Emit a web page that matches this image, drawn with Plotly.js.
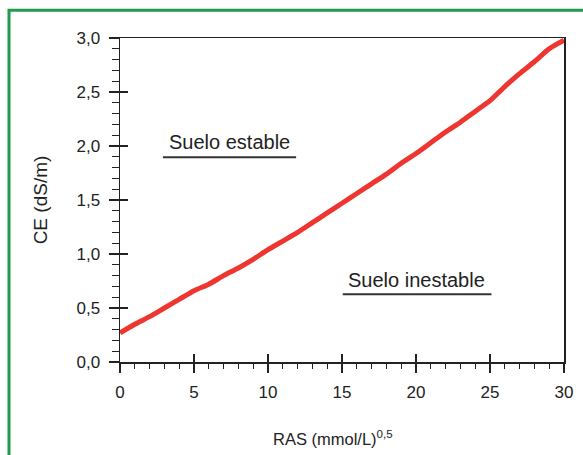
<!DOCTYPE html>
<html>
<head>
<meta charset="utf-8">
<script src="https://cdn.plot.ly/plotly-3.0.1.min.js"></script>
<style>
  html, body { margin: 0; padding: 0; background: #ffffff; }
  #chart { width: 583px; height: 455px; }
</style>
</head>
<body>
<div id="chart"></div>
<script>
// Data
const ras = [0, 1, 2, 3, 4, 5, 6, 7, 8, 9, 10, 11, 12, 13, 14, 15, 16, 17, 18, 19, 20, 21, 22, 23, 24, 25, 26, 27, 28, 29, 30];
const ce  = [0.27, 0.35, 0.42, 0.50, 0.58, 0.66, 0.72, 0.80, 0.87, 0.95, 1.04, 1.12, 1.20, 1.29, 1.38, 1.47, 1.56, 1.65, 1.74, 1.84, 1.93, 2.03, 2.13, 2.22, 2.32, 2.42, 2.55, 2.67, 2.78, 2.90, 2.98];

const regionLabels = ["Suelo estable", "Suelo inestable"];
const labelX = [7.4, 20.0];
const labelY = [2.04, 0.76];
const underlineX0 = [2.9, 15.05];
const underlineX1 = [11.9, 25.1];
const underlineY = [1.895, 0.627];

const xTitle = "RAS (mmol/L)<sup>0,5</sup>";
const yTitle = "CE (dS/m)";

const textColor = "#222222";
const fontFam = "Liberation Sans, Arial, sans-serif";

const trace = {
  x: ras, y: ce, type: "scatter", mode: "lines",
  line: { color: "#ee3530", width: 5, shape: "spline", smoothing: 0.6 },
  hoverinfo: "skip", showlegend: false
};
// invisible trace to anchor the overlay axes (inner half of the major ticks)
const ghost = {
  x: [0], y: [0], xaxis: "x2", yaxis: "y2", type: "scatter", mode: "markers",
  marker: { opacity: 0 }, hoverinfo: "skip", showlegend: false
};

const shapes = [
  { type: "rect", xref: "paper", yref: "paper", x0: -0.25, x1: 1.2, y0: -0.5, y1: 1.086,
    line: { color: "#1f9a4f", width: 3 }, fillcolor: "rgba(0,0,0,0)", layer: "below" }
];
const annotations = [];
for (let i = 0; i < regionLabels.length; i++) {
  shapes.push({ type: "line", xref: "x", yref: "y", x0: underlineX0[i], x1: underlineX1[i],
    y0: underlineY[i], y1: underlineY[i], line: { color: "#333333", width: 2 } });
  annotations.push({ x: labelX[i], y: labelY[i], xref: "x", yref: "y", text: regionLabels[i],
    showarrow: false, font: { family: fontFam, size: 20, color: textColor } });
}
// x-axis title placed as in the reference (slightly left of the plot centre)
annotations.push({ x: 0.479, y: -0.235, xref: "paper", yref: "paper", text: xTitle,
  showarrow: false, yanchor: "middle", font: { family: fontFam, size: 16.5, color: textColor } });

const layout = {
  width: 583, height: 455,
  margin: { l: 120, r: 19, t: 38, b: 93 },
  paper_bgcolor: "#ffffff", plot_bgcolor: "#ffffff",
  separators: ",.",
  font: { family: fontFam, color: textColor, size: 16 },
  xaxis: {
    range: [0, 30], dtick: 5, tick0: 0, showgrid: false, zeroline: false,
    showline: true, linecolor: "#222222", linewidth: 1.5, mirror: true,
    ticks: "outside", ticklen: 9, tickwidth: 1.5, tickcolor: "#222222",
    minor: { ticks: "outside", ticklen: 5, dtick: 1, tickwidth: 1.2, tickcolor: "#222222", showgrid: false },
    ticklabelstandoff: 5,
    tickfont: { family: fontFam, size: 17, color: textColor }
  },
  yaxis: {
    range: [0, 3], dtick: 0.5, tick0: 0, tickformat: ".1f", showgrid: false, zeroline: false,
    showline: true, linecolor: "#222222", linewidth: 1.5, mirror: true,
    ticks: "outside", ticklen: 10, tickwidth: 1.5, tickcolor: "#222222",
    minor: { ticks: "outside", ticklen: 7, dtick: 0.1, tickwidth: 1.2, tickcolor: "#222222", showgrid: false },
    ticklabelstandoff: 5,
    tickfont: { family: fontFam, size: 17, color: textColor },
    title: { text: yTitle, font: { family: fontFam, size: 19, color: textColor }, standoff: 24 }
  },
  xaxis2: {
    overlaying: "x", anchor: "y2", side: "bottom", range: [0, 30], dtick: 5, tick0: 0,
    showgrid: false, zeroline: false, showline: false, showticklabels: false,
    ticks: "inside", ticklen: 8, tickwidth: 1.5, tickcolor: "#222222"
  },
  yaxis2: {
    overlaying: "y", anchor: "x2", side: "left", range: [0, 3], dtick: 0.5, tick0: 0,
    showgrid: false, zeroline: false, showline: false, showticklabels: false,
    ticks: "inside", ticklen: 8, tickwidth: 1.5, tickcolor: "#222222"
  },
  shapes: shapes,
  annotations: annotations
};

Plotly.newPlot("chart", [trace, ghost], layout, { staticPlot: true, displayModeBar: false });
</script>
</body>
</html>
